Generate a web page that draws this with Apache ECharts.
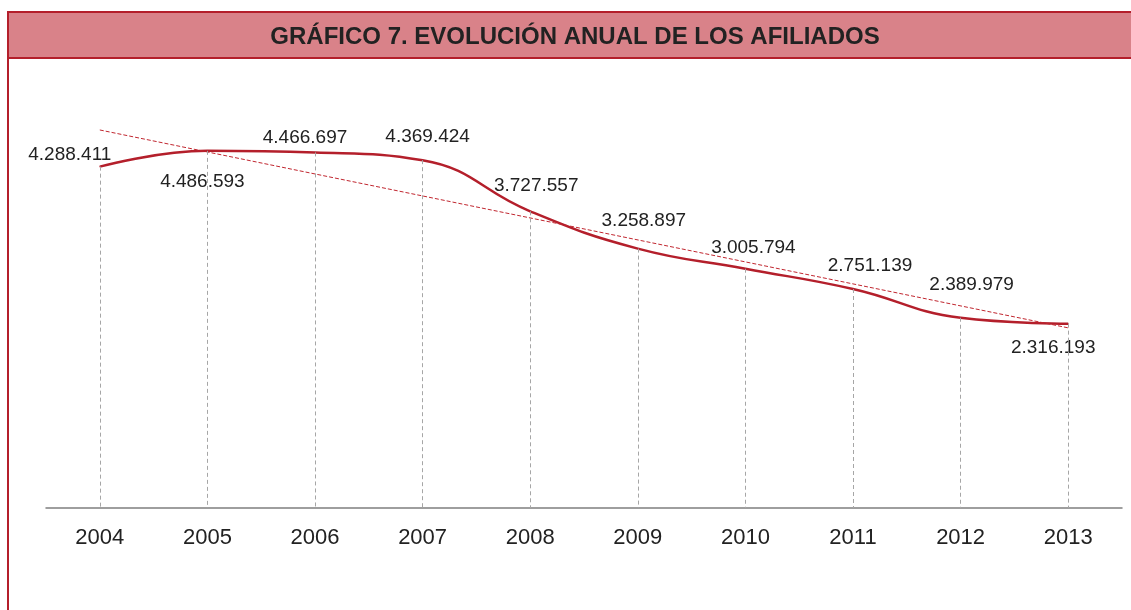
<!DOCTYPE html>
<html>
<head>
<meta charset="utf-8">
<style>
  html, body { margin: 0; padding: 0; background: #fff; }
  #box { width: 1131px; height: 610px; }
</style>
<script src="https://cdn.jsdelivr.net/npm/echarts@6/dist/echarts.min.js"></script>
</head>
<body>
<div id="box"></div>
<script>
var years = ['2004', '2005', '2006', '2007', '2008', '2009', '2010', '2011', '2012', '2013'];
var afiliados = [4288411, 4486593, 4466697, 4369424, 3727557, 3258897, 3005794, 2751139, 2389979, 2316193];
// trend line end values (2004 and 2013)
var tendencia = [4749000, 2263000];
// label offsets from each point (dx, dy)
var labelOffsets = [[-30, -12], [-5, 31], [-10, -15], [5, -23], [6, -26], [6, -28], [8, -21], [17, -23], [11, -33], [-15, 24]];

var fontFam = "'Liberation Sans', Arial, sans-serif";

function fmt(v) {
    return String(v).replace(/\B(?=(\d{3})+(?!\d))/g, '.');
}

var mychart = echarts.init(document.getElementById('box'));

var lineData = afiliados.map(function (v, i) {
    return { value: v, label: { offset: labelOffsets[i] } };
});

var trendData = years.map(function (y, i) {
    if (i === 0) return tendencia[0];
    if (i === years.length - 1) return tendencia[1];
    return '-';
});

var dropLines = afiliados.map(function (v, i) {
    return [{ coord: [years[i], v] }, { coord: [years[i], 0] }];
});

var option = {
    animation: false,
    textStyle: { fontFamily: fontFam },
    graphic: [
        {
            type: 'rect',
            shape: { x: 7, y: 11, width: 1124, height: 47 },
            style: { fill: '#d98289' },
            z: 0
        },
        {
            type: 'line',
            shape: { x1: 7, y1: 12, x2: 1131, y2: 12 },
            style: { stroke: '#b41f2b', lineWidth: 2 }
        },
        {
            type: 'line',
            shape: { x1: 7, y1: 58, x2: 1131, y2: 58 },
            style: { stroke: '#b41f2b', lineWidth: 2 }
        },
        {
            type: 'line',
            shape: { x1: 8, y1: 11, x2: 8, y2: 610 },
            style: { stroke: '#b41f2b', lineWidth: 2 }
        },
        {
            type: 'text',
            x: 575,
            y: 37,
            style: {
                text: 'GRÁFICO 7. EVOLUCIÓN ANUAL DE LOS AFILIADOS',
                fill: '#222',
                font: 'bold 24px ' + fontFam,
                textAlign: 'center',
                textVerticalAlign: 'middle'
            }
        }
    ],
    grid: {
        left: 46,
        right: 9,
        top: 110,
        bottom: 102
    },
    xAxis: {
        type: 'category',
        data: years,
        boundaryGap: true,
        axisLine: { lineStyle: { color: '#7f7f7f', width: 1.5 } },
        axisTick: { show: false },
        splitLine: { show: false },
        axisLabel: {
            color: '#222',
            fontSize: 22,
            margin: 19,
            fontFamily: fontFam
        }
    },
    yAxis: {
        type: 'value',
        min: 0,
        max: 5000000,
        show: false,
        splitLine: { show: false }
    },
    series: [{
        name: 'Afiliados',
        type: 'line',
        smooth: 0.45,
        symbol: 'circle',
        symbolSize: 1,
        itemStyle: { color: '#b41f2b' },
        lineStyle: { color: '#b41f2b', width: 2.5 },
        label: {
            show: true,
            position: 'inside',
            formatter: function (p) { return fmt(p.value); },
            color: '#222',
            fontSize: 19,
            fontFamily: fontFam
        },
        markLine: {
            silent: true,
            symbol: 'none',
            label: { show: false },
            lineStyle: { color: '#a6a6a6', width: 1, type: [4, 3] },
            data: dropLines
        },
        data: lineData,
        z: 3
    }, {
        name: 'Tendencia',
        type: 'line',
        connectNulls: true,
        symbol: 'none',
        lineStyle: { color: '#c0262f', width: 1, type: [4, 2] },
        data: trendData,
        z: 4
    }]
};

mychart.setOption(option);
</script>
</body>
</html>
